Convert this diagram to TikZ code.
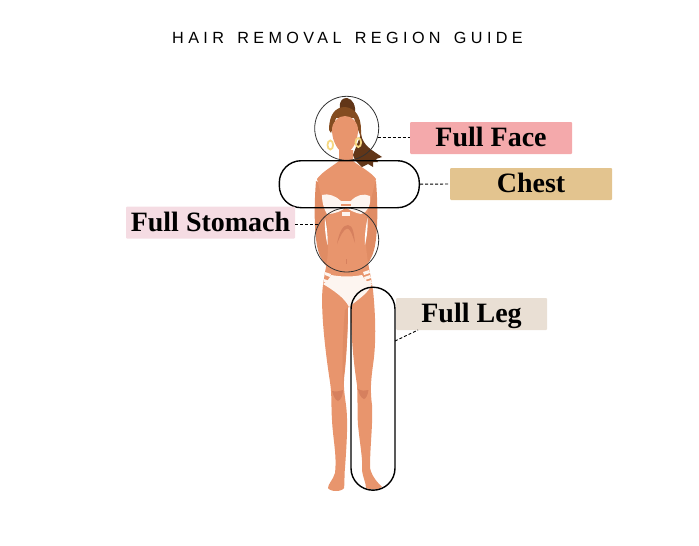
\documentclass[tikz,border=0pt]{standalone}
\usepackage{fontspec}
\usepackage{xcolor}
\usetikzlibrary{calc}
\setmainfont{Liberation Serif}
\newfontfamily\titlefont[LetterSpace=27,WordSpace=1.5]{Liberation Sans}
\definecolor{skin}{RGB}{232,149,109}
\definecolor{skinarm}{RGB}{224,140,100}
\definecolor{skinshade}{RGB}{214,128,94}
\definecolor{bikini}{RGB}{253,245,240}
\definecolor{hairbrown}{RGB}{132,76,32}
\definecolor{hairdark}{RGB}{98,54,24}
\definecolor{gold}{RGB}{246,216,130}
\definecolor{facepink}{RGB}{244,169,171}
\definecolor{chesttan}{RGB}{227,196,143}
\definecolor{stomachpink}{RGB}{245,220,227}
\definecolor{legbeige}{RGB}{233,223,212}
\tikzset{regionlabel/.style={font=\fontsize{28}{30}\selectfont\bfseries, inner sep=0pt, rounded corners=1pt, minimum height=32pt, text height=22pt, text depth=5pt}}
\tikzset{thinring/.style={draw=black!80, line width=0.8pt, circle, minimum size=64pt, inner sep=0pt}}
\tikzset{thickring/.style={draw=black, line width=1.4pt, inner sep=0pt, rounded corners=22pt}}
\tikzset{guideline/.style={dash pattern=on 3pt off 2pt, line width=0.9pt}}
\begin{document}
\begin{tikzpicture}[x=1pt, y=-1pt]
\useasboundingbox (0, 0) rectangle (699, 546);
\node[font=\titlefont\fontsize{16.2}{18}\selectfont] (guidetitle) at (347.5, 37.5) {HAIR REMOVAL REGION GUIDE};
\fill[skinarm] (316, 181) .. controls (314, 205) and (314, 235) .. (318, 250) .. controls (320, 258) and (324, 264) .. (328, 268) -- (333, 190) -- cycle;
\fill[skinarm] (376, 181) .. controls (378, 205) and (378, 235) .. (374, 250) .. controls (372, 258) and (368, 264) .. (364, 268) -- (359, 190) -- cycle;
\fill[skin] (339, 150) -- (339, 161) .. controls (330, 168) and (322, 172) .. (317, 179) -- (326, 215) .. controls (329, 235) and (329, 255) .. (325, 272) -- (323, 285) .. controls (320, 305) and (325, 350) .. (330, 382) .. controls (332, 395) and (331, 405) .. (332, 420) .. controls (333, 440) and (337, 455) .. (335, 473) .. controls (333, 480) and (328, 484) .. (328, 488) .. controls (330, 492) and (342, 492) .. (344, 488) .. controls (345, 480) and (344, 475) .. (345, 468) .. controls (347, 440) and (348, 420) .. (346, 405) .. controls (344, 390) and (343, 385) .. (345, 370) .. controls (347, 350) and (348, 325) .. (348, 307) -- (351, 307) .. controls (351, 340) and (354, 365) .. (357, 385) .. controls (358, 400) and (357, 410) .. (358, 425) .. controls (360, 445) and (363, 460) .. (362, 470) .. controls (363, 478) and (366, 483) .. (366, 488) .. controls (370, 490) and (378, 490) .. (382, 487) .. controls (378, 483) and (372, 477) .. (370, 468) .. controls (370, 445) and (373, 425) .. (372, 405) .. controls (370, 390) and (371, 380) .. (373, 365) .. controls (376, 345) and (376, 320) .. (373, 290) -- (371, 278) .. controls (366, 255) and (364, 235) .. (367, 215) -- (376, 179) .. controls (371, 172) and (362, 168) .. (353, 161) -- (353, 150) -- cycle;
\fill[skinarm] (348, 307) .. controls (348, 330) and (346, 360) .. (343, 384) .. controls (342, 360) and (343, 330) .. (345, 310) -- cycle;
\fill[white] (325, 218) .. controls (327, 228) and (328, 236) .. (327.5, 245) .. controls (325.5, 236) and (324.5, 228) .. (325, 218) -- cycle;
\fill[white] (367.5, 218) .. controls (365.5, 228) and (364.5, 236) .. (365, 245) .. controls (367, 236) and (368, 228) .. (367.5, 218) -- cycle;
\fill[skinshade] (332, 391) .. controls (336, 392) and (340, 391) .. (343, 390) .. controls (343, 395) and (341, 400) .. (338, 401) .. controls (335, 400) and (333, 395) .. (332, 391) -- cycle;
\fill[skinshade] (358, 389) .. controls (362, 391) and (365, 391) .. (368.5, 390) .. controls (368, 394) and (366, 399) .. (364, 399) .. controls (361, 398) and (359, 394) .. (358, 389) -- cycle;
\fill[skinshade] (337, 244) .. controls (339, 232) and (343, 225) .. (348, 225) .. controls (353, 225) and (354, 234) .. (355, 243) .. controls (352, 234) and (350, 228) .. (347, 228.5) .. controls (344, 229) and (340, 236) .. (337, 244) -- cycle;
\fill[skinshade] (346.2, 259) rectangle (347.2, 264);
\fill[bikini] (322, 195) .. controls (328, 193) and (336, 196) .. (341, 201) -- (351, 201) .. controls (356, 195) and (364, 193) .. (370, 196) .. controls (371, 205) and (368, 212) .. (361, 214) .. controls (355, 213) and (349, 210) .. (346, 207) .. controls (342, 211) and (335, 214) .. (327, 214) .. controls (324, 209) and (322, 203) .. (322, 195) -- cycle;
\fill[skin] (341, 204) rectangle (351, 206);
\fill[bikini] (342, 212) rectangle (350, 215.5);
\fill[bikini] (323, 284) .. controls (327, 282) and (329, 279) .. (331, 275) .. controls (342, 277) and (352, 277) .. (362, 275) .. controls (364, 279) and (367, 282) .. (372, 284) .. controls (368, 294) and (357, 300) .. (349, 307) .. controls (345, 298) and (333, 290) .. (323, 284) -- cycle;
\fill[bikini] (325, 272) -- (331, 274) -- (330, 277) -- (325, 275) -- cycle;
\fill[bikini] (324, 279) -- (330, 281) -- (329, 284) -- (324, 282) -- cycle;
\fill[bikini] (363, 272) -- (369, 270) -- (370, 273) -- (364, 275) -- cycle;
\fill[bikini] (364, 277) -- (370, 275) -- (371, 278) -- (365, 280) -- cycle;
\fill[bikini] (365, 282) -- (371, 280) -- (372, 283) -- (366, 285) -- cycle;
\fill[hairdark] (361, 134) .. controls (363, 146) and (372, 150) .. (382, 157) -- (376, 159) -- (378, 162) -- (373, 162) -- (373, 167) -- (368, 164) -- (362, 167) .. controls (358, 163) and (354, 160) .. (353, 155) -- cycle;
\fill[hairdark] (340, 108) .. controls (339, 100) and (343, 98) .. (347, 98) .. controls (353, 99) and (356, 106) .. (355, 114) -- cycle;
\fill[hairbrown] (329, 130) .. controls (329, 115) and (335, 107) .. (345, 107) .. controls (355, 108) and (361, 116) .. (361, 130) -- (361, 138) -- (354, 118) -- (336, 118) -- (331, 133) -- cycle;
\fill[skin] (345, 116) .. controls (352, 116) and (358, 122) .. (358, 130) .. controls (358, 142) and (351, 153) .. (345, 153) .. controls (339, 153) and (332, 142) .. (332, 130) .. controls (332, 122) and (338, 116) .. (345, 116) -- cycle;
\draw[gold, line width=1.8pt] (330.3, 145) ellipse (2.8 and 4.5);
\draw[gold, line width=1.8pt] (358.3, 142.5) ellipse (2.8 and 4.5);
\node[thinring] (facering) at (346.7, 128.3) {};
\node[thinring] (stomachring) at (346.7, 240) {};
\node[thickring, minimum width=140pt, minimum height=47pt] (chestring) at (349.3, 184.2) {};
\node[thickring, minimum width=44pt, minimum height=203pt] (legring) at (373, 388.7) {};
\node[regionlabel, fill=facepink, minimum width=162pt] (facelabel) at (491, 138) {Full Face};
\node[regionlabel, fill=chesttan, minimum width=162pt] (chestlabel) at (531, 184) {Chest};
\node[regionlabel, fill=stomachpink, minimum width=169pt] (stomachlabel) at (210.5, 222.5) {Full Stomach};
\node[regionlabel, fill=legbeige, minimum width=151pt] (leglabel) at (471.5, 314) {Full Leg};
\coordinate (legtip) at (395, 341);
\coordinate (legend) at (418, 330);
\draw[guideline] (facering.-17) -- (facering.-17 -| facelabel.west);
\draw[guideline] (chestring.east) -- (chestlabel.west);
\draw[guideline] (stomachlabel.east |- stomachring.152) -- (stomachring.152);
\draw[guideline] (legtip) -- (legend);
\end{tikzpicture}
\end{document}
